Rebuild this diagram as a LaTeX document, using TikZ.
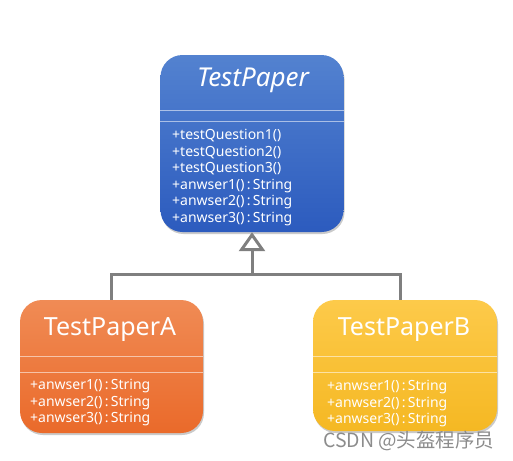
\documentclass[tikz,border=0pt]{standalone}
\usepackage{fontspec}
\setmainfont{Noto Sans}
\newfontfamily\cjkfont{Noto Sans CJK SC}
\usepackage{tikz}
\usetikzlibrary{arrows.meta}
\usetikzlibrary{positioning}
\usetikzlibrary{shadows}

\definecolor{blueTop}{HTML}{5382D0}
\definecolor{blueBot}{HTML}{2C5BBE}
\definecolor{orangeTop}{HTML}{F08B55}
\definecolor{orangeBot}{HTML}{EA6A2A}
\definecolor{yellowTop}{HTML}{FDCA4A}
\definecolor{yellowBot}{HTML}{F5B823}
\definecolor{linkGray}{HTML}{7F7F7F}

\tikzset{
	cls/.style={rounded corners=22pt, draw=none,
		drop shadow={shadow xshift=1pt, shadow yshift=-2pt, opacity=.35, fill=black!60}},
	ttl/.style={text=white, inner sep=0pt, font=\fontsize{26}{30}\selectfont},
	meth/.style={text=white, inner sep=0pt, text width=160pt, align=left,
		text height=10pt, text depth=3pt, font=\fontsize{14}{16}\selectfont},
	sep/.style={white, opacity=.55, line width=.8pt},
	link/.style={linkGray, line width=3pt}
}

\begin{document}
\begin{tikzpicture}[x=1pt,y=-1pt,>={Triangle[open,length=19pt,width=26pt]},node distance=3.2pt]
	\useasboundingbox (0,0) rectangle (513,460);

	% abstract class
	\node[cls, top color=blueTop, bottom color=blueBot, minimum width=183pt, minimum height=177pt] (tp) at (252,143.5) {};
	\node[ttl] (tpname) at (253,80) {\itshape TestPaper};
	\draw[sep] (tp.west |- 0,110) -- (tp.east |- 0,110);
	\draw[sep] (tp.west |- 0,121) -- (tp.east |- 0,121);
	\node[meth, anchor=west] (tpm1) at (172,136) {+testQuestion1()};
	\node[meth] (tpm2) [below=of tpm1] {+testQuestion2()};
	\node[meth] (tpm3) [below=of tpm2] {+testQuestion3()};
	\node[meth] (tpm4) [below=of tpm3] {+anwser1()\,:\,String};
	\node[meth] (tpm5) [below=of tpm4] {+anwser2()\,:\,String};
	\node[meth] (tpm6) [below=of tpm5] {+anwser3()\,:\,String};

	% subclass A
	\node[cls, top color=orangeTop, bottom color=orangeBot, minimum width=183pt, minimum height=133pt] (pa) at (111.5,366.5) {};
	\node[ttl, font=\fontsize{25}{29}\selectfont] (paname) at (110,330) {TestPaperA};
	\draw[sep] (pa.west |- 0,356) -- (pa.east |- 0,356);
	\draw[sep] (pa.west |- 0,372) -- (pa.east |- 0,372);
	\node[meth, anchor=west] (pam1) at (30,386) {+anwser1()\,:\,String};
	\node[meth] (pam2) [below=of pam1] {+anwser2()\,:\,String};
	\node[meth] (pam3) [below=of pam2] {+anwser3()\,:\,String};

	% subclass B
	\node[cls, top color=yellowTop, bottom color=yellowBot, minimum width=184pt, minimum height=131pt] (pb) at (405,365.5) {};
	\node[ttl, font=\fontsize{25}{29}\selectfont] (pbname) at (404,330) {TestPaperB};
	\draw[sep] (pb.west |- 0,356) -- (pb.east |- 0,356);
	\draw[sep] (pb.west |- 0,372) -- (pb.east |- 0,372);
	\node[meth, anchor=west] (pbm1) at (327,387) {+anwser1()\,:\,String};
	\node[meth] (pbm2) [below=of pbm1] {+anwser2()\,:\,String};
	\node[meth] (pbm3) [below=of pbm2] {+anwser3()\,:\,String};

	% inheritance
	\coordinate (fork) at (252,274);
	\draw[link] (pa.north) |- (fork) -| ([xshift=-5pt]pb.north);
	\draw[link,->] (fork) -- (tp.south);

	\node[text=black!45, font=\cjkfont\fontsize{19.5}{22}\selectfont, anchor=east] (mark) at (498,441) {CSDN @头盔程序员};
\end{tikzpicture}
\end{document}
